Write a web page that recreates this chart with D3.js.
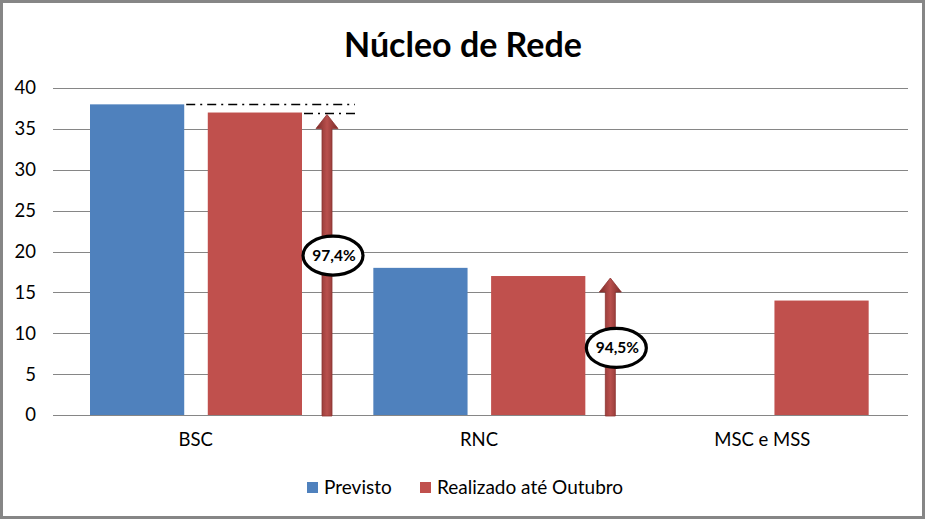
<!DOCTYPE html>
<html><head><meta charset="utf-8">
<script src="https://cdn.jsdelivr.net/npm/d3@7"></script>
<style>body{margin:0;background:#fff}svg{display:block}</style>
</head><body>
<svg id="c" width="926" height="520"></svg>
<script>
const categories = ["BSC", "RNC", "MSC e MSS"];
const seriesNames = ["Previsto", "Realizado até Outubro"];
const previsto = [38, 18, 0];
const realizado = [37, 17, 14];
const yTicks = [0, 5, 10, 15, 20, 25, 30, 35, 40];
const percentLabels = ["97,4%", "94,5%"];
const colors = ["#4F81BD", "#C0504D"];

const svg = d3.select("#c");
const font = "Lato, 'Open Sans', sans-serif";
svg.append("rect").attr("x", 1.5).attr("y", 1.5).attr("width", 922).attr("height", 516)
  .attr("fill", "#fff").attr("stroke", "#868686").attr("stroke-width", 3);

svg.append("text").attr("x", 463).attr("y", 57).attr("text-anchor", "middle")
  .attr("font-family", font).attr("font-weight", "bold").attr("font-size", 34).attr("fill", "#000")
  .text("Núcleo de Rede");

const x = d3.scaleBand().domain(categories).range([54, 904]);
const y = d3.scaleLinear().domain([0, 40]).range([415, 88]);
const sub = d3.scaleBand().domain([0, 1]).range([36, 248]).paddingInner(0.2);

const grid = svg.append("g");
yTicks.forEach(t => {
  grid.append("line").attr("x1", 53).attr("x2", 908).attr("y1", Math.round(y(t)) + 0.5).attr("y2", Math.round(y(t)) + 0.5)
    .attr("stroke", "#868686").attr("stroke-width", 1);
});
const yAxis = d3.axisLeft(y).tickValues(yTicks).tickSize(0).tickPadding(0);
const ya = svg.append("g").attr("transform", "translate(36,0)").call(yAxis);
ya.select(".domain").remove();
ya.selectAll("text").attr("font-family", font).attr("font-size", 18.5).attr("fill", "#000");

const xAxis = d3.axisBottom(x).tickSize(0).tickPadding(0);
const xa = svg.append("g").attr("transform", "translate(0,431)").call(xAxis);
xa.select(".domain").remove();
xa.selectAll("text").attr("font-family", font).attr("font-size", 18.5).attr("fill", "#000").attr("dy", "0.8em");

const data = [previsto, realizado];
data.forEach((vals, si) => {
  svg.append("g").selectAll("rect").data(categories.map((c, i) => ({c, v: vals[i]})).filter(d => d.v > 0))
    .join("rect")
    .attr("x", d => x(d.c) + sub(si))
    .attr("width", sub.bandwidth())
    .attr("y", d => y(d.v))
    .attr("height", d => y(0) - y(d.v))
    .attr("fill", colors[si]);
});

const defs = svg.append("defs");
const g = defs.append("linearGradient").attr("id", "ag").attr("x1", 0).attr("x2", 1).attr("y1", 0).attr("y2", 0);
g.append("stop").attr("offset", "0%").attr("stop-color", "#7a2b29");
g.append("stop").attr("offset", "50%").attr("stop-color", "#b9504d");
g.append("stop").attr("offset", "100%").attr("stop-color", "#7a2b29");

const bscR = x("BSC") + sub(1) + sub.bandwidth();
const bscP = x("BSC") + sub(0) + sub.bandwidth();
svg.append("line").attr("x1", bscP + 2).attr("x2", bscR + 53).attr("y1", Math.round(y(previsto[0])) + 0.5).attr("y2", Math.round(y(previsto[0])) + 0.5)
  .attr("stroke", "#000").attr("stroke-width", 1.5).attr("stroke-dasharray", "9,5,2,5");
svg.append("line").attr("x1", bscR + 2).attr("x2", bscR + 53).attr("y1", Math.round(y(realizado[0])) + 0.5).attr("y2", Math.round(y(realizado[0])) + 0.5)
  .attr("stroke", "#000").attr("stroke-width", 1.5).attr("stroke-dasharray", "9,5,2,5");

[0, 1].forEach(i => {
  const c = categories[i];
  const ax = x(c) + sub(1) + sub.bandwidth() + 25;
  const top = y(realizado[i]) + 2;
  const bot = y(0) + 1;
  const hw = 5, hh = 11, headH = 14;
  const path = `M${ax - hw},${bot} L${ax - hw},${top + headH} L${ax - hh},${top + headH} L${ax},${top} L${ax + hh},${top + headH} L${ax + hw},${top + headH} L${ax + hw},${bot} Z`;
  svg.append("path").attr("d", path).attr("fill", "url(#ag)").attr("stroke", "#8c3230").attr("stroke-width", 0.8);
});

const labelPos = [{c: "BSC", v: 19.5}, {c: "RNC", v: 8.2}];
labelPos.forEach((lp, i) => {
  const cx = x(lp.c) + sub(1) + sub.bandwidth() + 31;
  const cy = y(lp.v);
  svg.append("ellipse").attr("cx", cx).attr("cy", cy).attr("rx", 30).attr("ry", 19.5)
    .attr("fill", "#fff").attr("stroke", "#000").attr("stroke-width", 3.2);
  svg.append("text").attr("x", cx + 1).attr("y", cy + 5.5).attr("text-anchor", "middle")
    .attr("font-family", font).attr("font-weight", "bold").attr("font-size", 15.5).attr("fill", "#000")
    .text(percentLabels[i]);
});

const legX = [307, 420];
seriesNames.forEach((n, i) => {
  svg.append("rect").attr("x", legX[i]).attr("y", 482).attr("width", 11).attr("height", 11).attr("fill", colors[i]);
  svg.append("text").attr("x", legX[i] + 17).attr("y", 494).attr("font-family", font).attr("font-size", 19)
    .attr("fill", "#000").text(n);
});
</script>
</body></html>
